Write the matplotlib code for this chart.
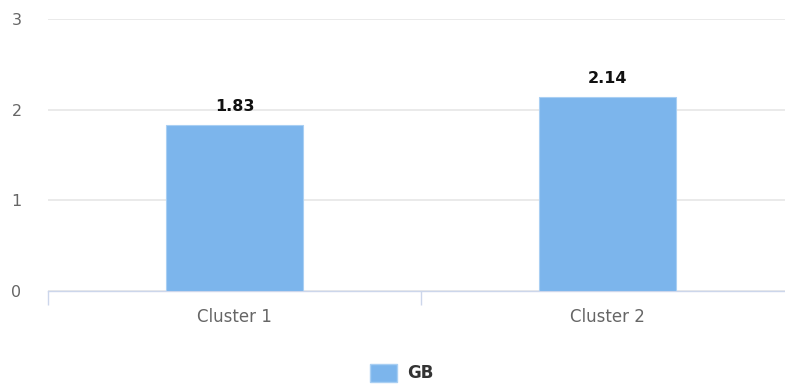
import matplotlib.pyplot as plt
from matplotlib.patches import Patch

plt.rcParams['font.family'] = ['DejaVu Sans']

clusters = ["Cluster 1", "Cluster 2"]
gb_values = [1.83, 2.14]
y_ticks = [0, 1, 2, 3]

fig = plt.figure(figsize=(7.85, 3.85), dpi=100)
ax = fig.add_axes([48 / 785, 1 - 291 / 385, (794 - 48) / 785, (291 - 19) / 385])

x = range(len(clusters))
bars = ax.bar(x, gb_values, width=0.365, color="#7cb5ec", edgecolor="#a9cff3", linewidth=0.8, zorder=3)

for b, v in zip(bars, gb_values):
    ax.annotate("{:.2f}".format(v), (b.get_x() + b.get_width() / 2, v), xytext=(0, 8),
                textcoords="offset points", ha="center", va="bottom",
                fontsize=11.5, fontweight="bold", color="#111111")

ax.set_xlim(-0.5, len(clusters) - 0.5)
ax.set_ylim(0, 3)
ax.set_yticks(y_ticks)
ax.yaxis.grid(True, color="#e6e6e6", linewidth=1.2, zorder=0)
ax.set_axisbelow(True)

ax.set_xticks(list(x))
ax.set_xticklabels(clusters, fontsize=12, color="#666666")
ax.tick_params(axis="x", length=0, pad=12)
ax.set_xticks([-0.5, 0.5, 1.5], minor=True)
ax.tick_params(axis="x", which="minor", length=10, color="#ccd6eb", width=1)

ax.tick_params(axis="y", length=0, labelsize=11.5, labelcolor="#666666", pad=19)

for s in ["top", "right", "left"]:
    ax.spines[s].set_visible(False)
ax.spines["bottom"].set_color("#ccd6eb")
ax.spines["bottom"].set_linewidth(1)

handle = Patch(facecolor="#7cb5ec", edgecolor="#a9cff3", label="GB")
leg = fig.legend(handles=[handle], loc="center", bbox_to_anchor=(402 / 785, 1 - 373 / 385),
                 frameon=False, prop={"size": 12, "weight": "bold"}, handlelength=1.6,
                 handleheight=1.3, handletextpad=0.6)
for t in leg.get_texts():
    t.set_color("#333333")

fig.savefig("out.png", dpi=100)
